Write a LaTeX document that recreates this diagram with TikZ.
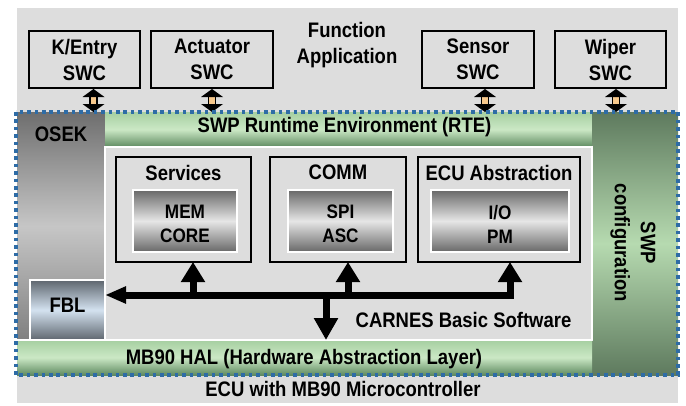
\documentclass[tikz,border=0pt]{standalone}
\usepackage{fontspec}
\setmainfont{Liberation Sans}[FakeStretch=0.88]
\usetikzlibrary{arrows.meta,calc}
\definecolor{bg}{HTML}{DDDDDD}
\definecolor{osekT}{HTML}{6E6E6E}
\definecolor{osekM}{HTML}{C6C6C6}
\definecolor{osekB}{HTML}{808080}
\definecolor{grT}{HTML}{A6CFA1}
\definecolor{grM}{HTML}{CBE8C5}
\definecolor{grB}{HTML}{5E8A60}
\definecolor{swpT}{HTML}{5E7A5E}
\definecolor{swpM}{HTML}{B6DAB0}
\definecolor{gyT}{HTML}{686868}
\definecolor{gyM}{HTML}{E6E6E6}
\definecolor{fbT}{HTML}{5E666E}
\definecolor{fbM}{HTML}{D4E2F0}
\definecolor{orng}{HTML}{F8C98C}
\definecolor{dotblue}{HTML}{2E6CA6}
\tikzset{
  region/.style={rectangle, anchor=north west, inner sep=0pt, outer sep=0pt, draw=none},
  bigtxt/.style={font=\bfseries\fontsize{21}{26}\selectfont, text=black, align=center, inner sep=0pt},
  smalltxt/.style={font=\bfseries\fontsize{19.5}{24}\selectfont, text=black, align=center, inner sep=0pt},
  swcbox/.style={rectangle, draw=black, line width=2pt, fill=bg, inner sep=0pt, outer sep=0pt,
    font=\bfseries\fontsize{21}{26}\selectfont, align=center, minimum height=57pt},
  modbox/.style={region, draw=black, line width=2.5pt, fill=bg},
  innerbox/.style={region, draw=white, line width=1.5pt, top color=gyT, bottom color=gyT, middle color=gyM},
  greenbar/.style={region, top color=grT, bottom color=grB, middle color=grM},
  busline/.style={line width=7pt, black},
  uparr/.style={busline, -{Triangle[width=23pt,length=20pt]}},
}
\begin{document}
\begin{tikzpicture}[x=1pt,y=-1pt]
\useasboundingbox (0,0) rectangle (686,405);
\fill[white] (0,0) rectangle (686,405);

% regions
\node[region, fill=bg, minimum width=661pt, minimum height=395pt] (ecubg) at (17,8) {};
\node[region, top color=osekT, bottom color=osekB, middle color=osekM, minimum width=88pt, minimum height=228pt] (osek) at (17,112) {};
\node[greenbar, minimum width=487pt, minimum height=35pt] (rte) at (105,112) {};
\node[region, top color=swpT, bottom color=swpT, middle color=swpM, minimum width=86pt, minimum height=263pt] (swp) at (592,112) {};
\node[region, fill=bg, draw=white, line width=1.5pt, minimum width=487pt, minimum height=193pt] (bsw) at (105,147) {};
\node[greenbar, minimum width=575pt, minimum height=35pt] (hal) at (17,340) {};
\draw[white, line width=1.5pt] (hal.north west) -- (hal.north east);
\node[region, draw=white, line width=1.5pt, top color=fbT, bottom color=fbT, middle color=fbM, minimum width=75pt, minimum height=60pt] (fbl) at (30,280) {};

% texts of regions
\node[bigtxt] (osektxt) at (61,134) {OSEK};
\node[bigtxt] (fbltxt) at (67.5,305) {FBL};
\node[bigtxt, anchor=base] (rtetxt) at (344.5,132) {SWP Runtime Environment (RTE)};
\node[bigtxt, anchor=base] (haltxt) at (304,364) {MB90 HAL (Hardware Abstraction Layer)};
\node[bigtxt, rotate=-90] (swptxt) at (633,243) {SWP\\configuration};
\node[bigtxt] (carnes) at (463.5,320) {CARNES Basic Software};
\node[bigtxt] (ecutxt) at (343,389) {ECU with MB90 Microcontroller};
\node[bigtxt] (funcapp) at (347,44.7) {Function\\Application};

% modules
\node[modbox, minimum width=135pt, minimum height=105pt] (services) at (116,157) {};
\node[modbox, minimum width=136pt, minimum height=105pt] (comm) at (270,157) {};
\node[modbox, minimum width=162pt, minimum height=105pt] (ecu) at (418,157) {};
\node[bigtxt] (servtxt) at (183.5,172.5) {Services};
\node[bigtxt] (commtxt) at (338,172.5) {COMM};
\node[bigtxt] (ecuabs) at (499,172.5) {ECU Abstraction};
\node[innerbox, minimum width=104pt, minimum height=62pt] (memcore) at (133,190) {};
\node[innerbox, minimum width=105pt, minimum height=62pt] (spiasc) at (288,190) {};
\node[innerbox, minimum width=138pt, minimum height=62pt] (iopm) at (431,190) {};
\node[smalltxt] (memtxt) at (memcore.center) [yshift=-3pt] {MEM\\CORE};
\node[smalltxt] (spitxt) at (spiasc.center) [yshift=-3pt] {SPI\\ASC};
\node[smalltxt] (iotxt) at (iopm.center) [yshift=-3pt] {I/O\\PM};

% bus
\coordinate (bus) at (0,295);
\coordinate (svin) at ([xshift=9.5pt]services.south);
\coordinate (cmin) at ([xshift=10pt]comm.south);
\coordinate (ecin) at ([xshift=11pt]ecu.south);
\coordinate (dn) at (326,295);
\draw[busline, miter limit=10, {Triangle[width=16pt,length=21pt]}-{Triangle[width=23pt,length=20pt]}]
  (fbl.east |- bus) -- (ecin |- bus) -- (ecin);
\draw[uparr] (svin |- bus) -- (svin);
\draw[uparr] (cmin |- bus) -- (cmin);
\draw[busline, -{Triangle[width=23pt,length=22pt]}] (dn) -- (dn |- hal.north);

% SWC boxes
\node[swcbox, minimum width=111pt] (kentry) at (84.5,59.5) {K/Entry\\SWC};
\node[swcbox, minimum width=122pt] (actuator) at (212,59.5) {Actuator\\SWC};
\node[swcbox, minimum width=112pt] (sensor) at (478,59.5) {Sensor\\SWC};
\node[swcbox, minimum width=111pt] (wiper) at (610.5,59.5) {Wiper\\SWC};

% double arrows
\foreach \n/\dx in {kentry/9, actuator/0, sensor/7, wiper/5.5} {
  \coordinate (t) at ([xshift=\dx pt, yshift=-1pt]\n.south);
  \coordinate (b) at (t |- rte.north);
  \filldraw[fill=orng, draw=black, line width=1.2pt] ($(t)+(-3.5,6)$) rectangle ($(b)+(3.5,-6)$);
  \fill[black] (t) -- ($(t)+(-11,8)$) -- ($(t)+(11,8)$) -- cycle;
  \fill[black] (b) -- ($(b)+(-11,-8)$) -- ($(b)+(11,-8)$) -- cycle;
}

% dotted border
\draw[dotblue, line width=3.3pt, dash pattern=on 3.6pt off 3.8pt] (16,112) rectangle (678,375);
\end{tikzpicture}
\end{document}
